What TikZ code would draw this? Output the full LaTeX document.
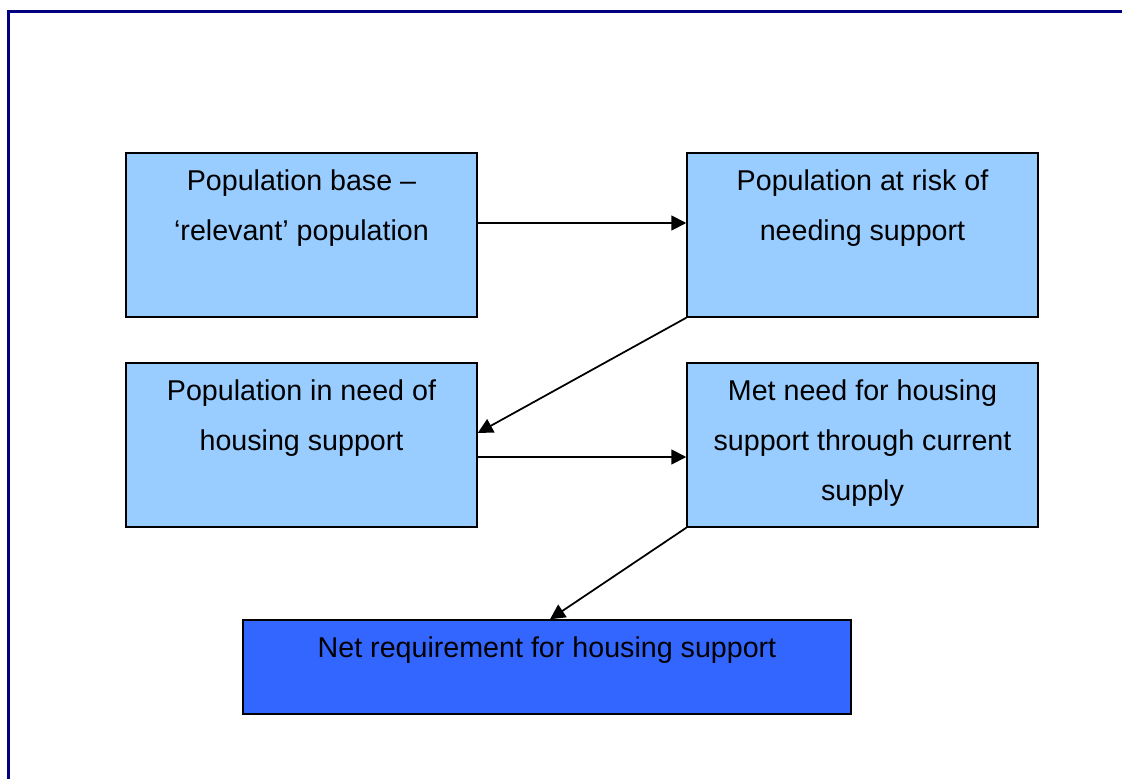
\documentclass[tikz,border=0pt]{standalone}
\usepackage{fontspec}
\setmainfont{Liberation Sans}
\usetikzlibrary{arrows.meta}
\definecolor{paleblue}{RGB}{153,204,255}
\definecolor{deepblue}{RGB}{51,102,255}
\definecolor{framenavy}{RGB}{0,0,128}
\tikzset{
  stagebox/.style={draw=black, line width=0.03cm, fill=paleblue, minimum width=7.02cm, minimum height=3.28cm, inner sep=0pt},
  stagetext/.style={anchor=north, align=center, inner sep=0pt, font={\fontsize{16.3pt}{28.4pt}\selectfont}},
  flow/.style={line width=0.035cm, -{Triangle[length=0.3cm,width=0.3cm]}}
}
\begin{document}
\begin{tikzpicture}
            \useasboundingbox (0,0) rectangle (22.44,-15.56);

            % Frame round the page
            \draw [line width=0.06cm, framenavy] (0.16,-15.8) -- (0.16,-0.24) -- (22.8,-0.24);%

            % Boxes
            \node [stagebox] (base) at (6.03,-4.70) {};%
            \node [stagebox] (risk) at (17.25,-4.70) {};%
            \node [stagebox] (need) at (6.03,-8.90) {};%
            \node [stagebox] (met) at (17.25,-8.90) {};%
            \node [stagebox, fill=deepblue, minimum width=12.16cm, minimum height=1.88cm] (net) at (10.94,-13.34) {};%

            % Box texts
            \node [stagetext] (basetext) at ([yshift=-0.34cm]base.north) {Population base --\\`relevant' population};%
            \node [stagetext] (risktext) at ([yshift=-0.34cm]risk.north) {Population at risk of\\needing support};%
            \node [stagetext] (needtext) at ([yshift=-0.34cm]need.north) {Population in need of\\housing support};%
            \node [stagetext] (mettext) at ([yshift=-0.34cm]met.north) {Met need for housing\\support through current\\supply};%
            \node [stagetext] (nettext) at ([yshift=-0.34cm]net.north) {Net requirement for housing support};%

            % Arrows between the stages
            \draw [flow] ([yshift=0.24cm]base.east) -- ([yshift=0.24cm]risk.west);%
            \draw [flow] (risk.south west) -- ([yshift=0.24cm]need.east);%
            \draw [flow] ([yshift=-0.24cm]need.east) -- ([yshift=-0.24cm]met.west);%
            \draw [flow] (met.south west) -- ([xshift=0.06cm]net.north);%
\end{tikzpicture}
\end{document}
